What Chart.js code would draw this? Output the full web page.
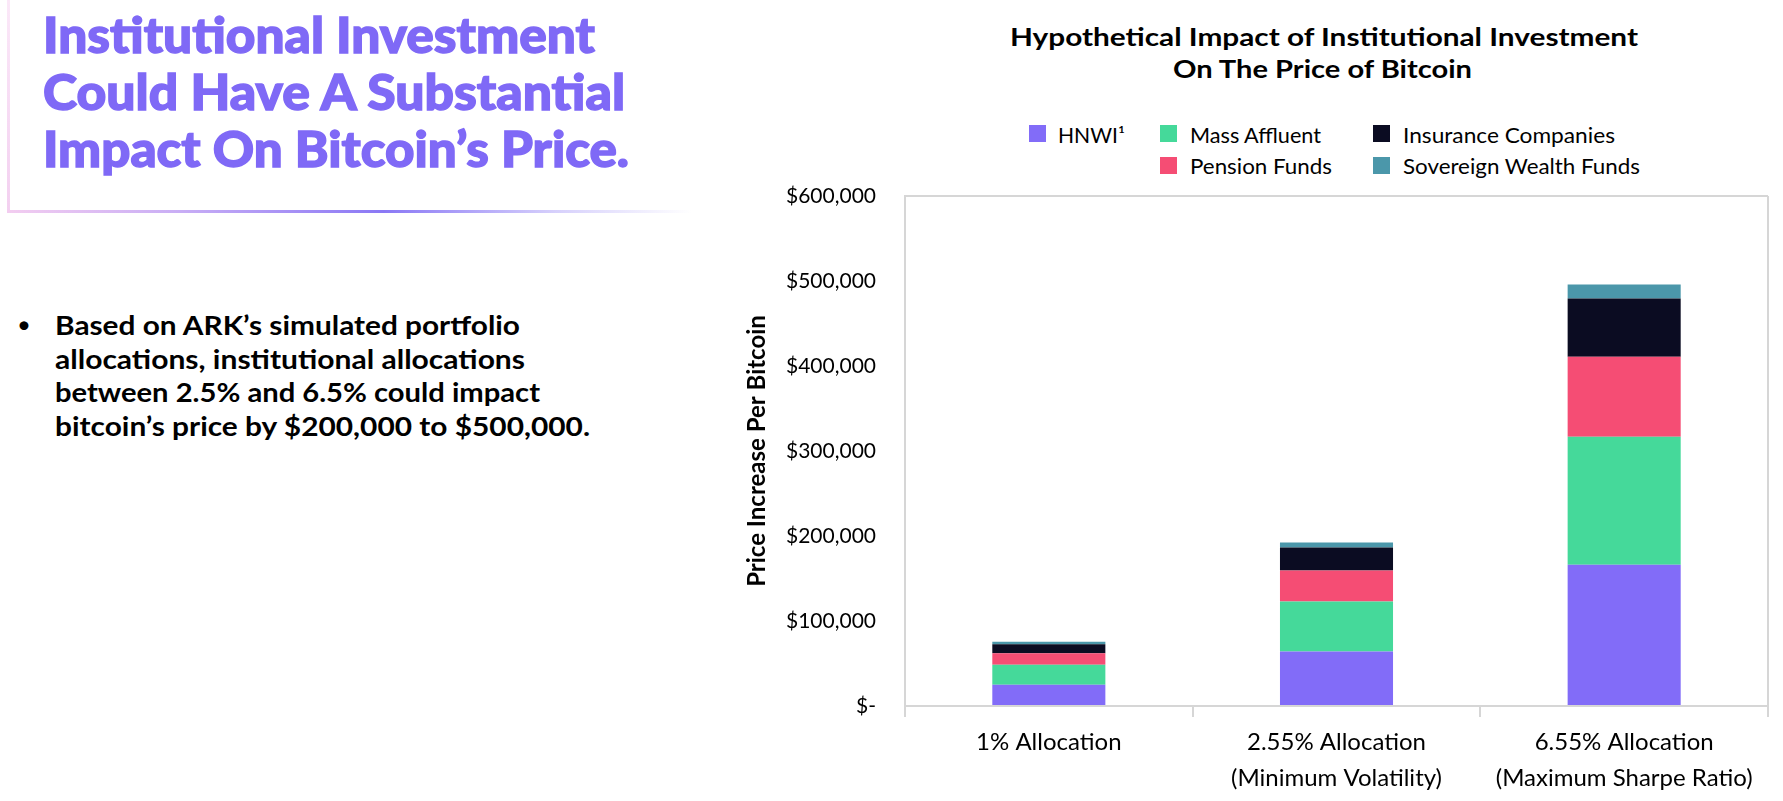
<!DOCTYPE html>
<html><head><meta charset="utf-8">
<script src="https://cdn.jsdelivr.net/npm/chart.js@4.4.1/dist/chart.umd.min.js"></script>
<style>
html,body{margin:0;padding:0;background:#fff;width:1783px;height:801px;overflow:hidden;font-family:Lato,'Noto Sans',sans-serif;}
.t{position:absolute;white-space:nowrap;line-height:1.2;transform-origin:0 0;margin:0;}
.heavy{font-family:'Lato Black',Lato,'Noto Sans',sans-serif;-webkit-text-stroke:1.4px #7F69F6;}
#chartBox{position:absolute;left:740px;top:0;width:1043px;height:801px;}
.vline{position:absolute;left:7px;top:0;width:3px;height:213px;background:linear-gradient(#fbe8f8,#f3d0f0);}
.hline{position:absolute;left:7px;top:210px;width:685px;height:3px;background:linear-gradient(90deg,#f3cdf0 0%,#c9aef5 25%,#8a78f5 55%,rgba(138,120,245,0.35) 80%,rgba(255,255,255,0) 100%);}
.lg{position:absolute;width:17px;height:17px;}
</style></head>
<body>
<div class="vline"></div>
<div class="hline"></div>
<div id="texts"></div>
<div id="chartBox"><canvas id="c" width="1043" height="801"></canvas></div>
<script>
// ---- data ----
const categories = [['1% Allocation'], ['2.55% Allocation', '(Minimum Volatility)'], ['6.55% Allocation', '(Maximum Sharpe Ratio)']];
const seriesNames = ['HNWI\u00B9', 'Mass Affluent', 'Pension Funds', 'Insurance Companies', 'Sovereign Wealth Funds'];
const hnwi = [24900, 64100, 166100];
const massAffluent = [23600, 58800, 150600];
const pensionFunds = [13600, 36500, 94100];
const insuranceCompanies = [10600, 27100, 68600];
const sovereignWealthFunds = [2800, 5900, 16500];
const yMax = 600000;
const yStep = 100000;

// ---- style ----
const seriesColors = ['#826CF8', '#45D99A', '#F54D74', '#0B0C22', '#4B97AA'];
const GRID = '#d6d6d6';
const FONT = 'Lato, "Noto Sans", sans-serif';

// ---- html text ----
const texts = document.getElementById('texts');
function place(text, x, baseline, size, weight, color, targetW, cls) {
  const el = document.createElement('div');
  el.className = 't' + (cls ? ' ' + cls : '');
  el.textContent = text;
  el.style.fontSize = size + 'px';
  el.style.fontWeight = weight;
  el.style.color = color;
  el.style.left = x + 'px';
  el.style.top = (baseline - 0.987 * size) + 'px';
  texts.appendChild(el);
  if (targetW) {
    const w = el.getBoundingClientRect().width;
    if (w > 0) el.style.transform = 'scaleX(' + (targetW / w) + ')';
  }
  return el;
}
const PURPLE = '#7F69F6';
place('Institutional Investment', 43, 53, 49, 900, PURPLE, 552, 'heavy');
place('Could Have A Substantial', 43, 110, 49, 900, PURPLE, 582, 'heavy');
place('Impact On Bitcoin\u2019s Price.', 43, 167, 49, 900, PURPLE, 586, 'heavy');

place('\u2022', 17, 334, 24, 400, '#000', null);
place('Based on ARK\u2019s simulated portfolio', 55, 336, 27, 700, '#000', 465);
place('allocations, institutional allocations', 55, 369.5, 27, 700, '#000', 470);
place('between 2.5% and 6.5% could impact', 55, 403, 27, 700, '#000', 485);
place('bitcoin\u2019s price by $200,000 to $500,000.', 55, 436.5, 27, 700, '#000', 535);

place('Hypothetical Impact of Institutional Investment', 1010, 47, 24, 700, '#000', 628);
place('On The Price of Bitcoin', 1173, 79, 24, 700, '#000', 299);

// legend (HTML), built from series names / colors
const legendSlots = [
  {bx: 1029, tx: 1058, row: 0, w: 67},
  {bx: 1160, tx: 1190, row: 0, w: 131},
  {bx: 1160, tx: 1190, row: 1, w: 142},
  {bx: 1373, tx: 1403, row: 0, w: 212},
  {bx: 1373, tx: 1403, row: 1, w: 237}
];
const rowBase = [143, 174];
const rowBox = [125, 157];
seriesNames.forEach((name, i) => {
  const s = legendSlots[i];
  const b = document.createElement('div');
  b.className = 'lg';
  b.style.left = s.bx + 'px';
  b.style.top = rowBox[s.row] + 'px';
  b.style.background = seriesColors[i];
  texts.appendChild(b);
  place(name, s.tx, rowBase[s.row], 21, 400, '#000', s.w);
});

// ---- chart ----
const seriesData = [hnwi, massAffluent, pensionFunds, insuranceCompanies, sovereignWealthFunds];
new Chart(document.getElementById('c'), {
  type: 'bar',
  data: {
    labels: categories,
    datasets: seriesNames.map((n, i) => ({
      label: n,
      data: seriesData[i],
      backgroundColor: seriesColors[i],
      borderWidth: 0,
      barPercentage: 0.393,
      categoryPercentage: 1.0
    }))
  },
  options: {
    responsive: false,
    animation: false,
    devicePixelRatio: 1,
    layout: {padding: {top: 196, right: 15, bottom: 0, left: 0}},
    plugins: {legend: {display: false}, tooltip: {enabled: false}, title: {display: false}},
    scales: {
      x: {
        stacked: true,
        offset: true,
        grid: {
          offset: true,
          drawOnChartArea: true,
          drawTicks: true,
          tickLength: 11,
          lineWidth: 2,
          color: c => (c.type !== 'tick' || c.index === 0) ? GRID : 'rgba(0,0,0,0)',
          tickColor: GRID,
          tickWidth: 2
        },
        border: {display: true, color: GRID, width: 2},
        ticks: {font: {family: FONT, size: 24, lineHeight: 1.5}, color: '#000', padding: 7, maxRotation: 0, autoSkip: false},
        afterFit: s => { s.height = 95; }
      },
      y: {
        stacked: true,
        min: 0,
        max: yMax,
        ticks: {
          stepSize: yStep,
          font: {family: FONT, size: 21},
          color: '#000',
          padding: 29,
          callback: v => v === 0 ? '$-' : '$' + v.toLocaleString('en-US')
        },
        grid: {drawTicks: false, lineWidth: 2, color: c => (c.tick && c.tick.value === yMax) ? GRID : 'rgba(0,0,0,0)'},
        border: {display: true, color: GRID, width: 2},
        title: {display: true, text: 'Price Increase Per Bitcoin', font: {family: FONT, size: 24, weight: 'bold'}, color: '#000', padding: {top: 3, bottom: 0}},
        afterFit: s => { s.width = 165; }
      }
    }
  }
});
</script>
</body></html>
